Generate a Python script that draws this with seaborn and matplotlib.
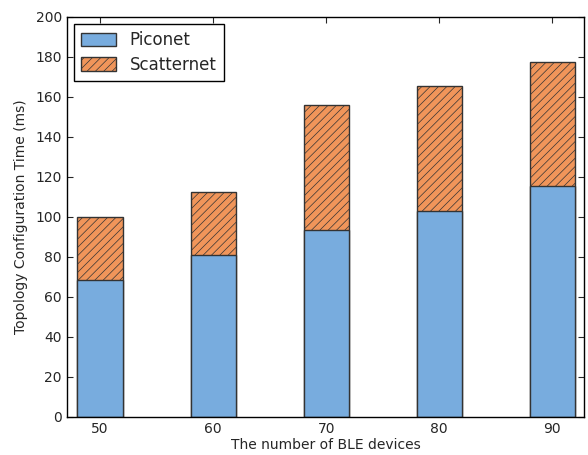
import matplotlib
matplotlib.use("Agg")
import matplotlib.pyplot as plt
import seaborn as sns
import pandas as pd
from matplotlib.patches import Patch

devices = [50, 60, 70, 80, 90]
piconet = [68.4, 80.8, 93.4, 102.8, 115.2]
scatternet = [31.6, 31.6, 62.6, 62.6, 62.4]
y_ticks = [0, 20, 40, 60, 80, 100, 120, 140, 160, 180, 200]

blue = "#78acde"
orange = "#f0955a"
edge = "#333333"

sns.set_style("ticks")
plt.rcParams["font.family"] = ["DejaVu Sans"]
plt.rcParams["hatch.linewidth"] = 0.5

df = pd.DataFrame({
    "devices": devices,
    "piconet": piconet,
    "total": [p + s for p, s in zip(piconet, scatternet)],
})

fig = plt.figure(figsize=(5.88, 4.55), dpi=100)
ax = fig.add_axes([0.1145, 0.0842, 0.8785, 0.8788])

# total height drawn first (hatched), piconet share drawn over its lower part
sns.barplot(data=df, x="devices", y="total", native_scale=True, width=0.4,
            color=orange, saturation=1, edgecolor=edge, linewidth=1.0,
            hatch="////", ax=ax)
sns.barplot(data=df, x="devices", y="piconet", native_scale=True, width=0.4,
            color=blue, saturation=1, edgecolor=edge, linewidth=1.0, ax=ax)

ax.set_xlim(47.1, 92.8)
ax.set_ylim(0, 200)
ax.set_xticks(devices)
ax.set_xticklabels([str(d) for d in devices])
ax.set_yticks(y_ticks)
ax.tick_params(direction="in", top=True, right=True, labelsize=10, length=4,
               width=0.8, pad=4)
for s in ax.spines.values():
    s.set_visible(True)
    s.set_color("black")
    s.set_linewidth(1.0)

ax.set_xlabel("The number of BLE devices", fontsize=10, labelpad=1)
ax.set_ylabel("Topology Configuration Time (ms)", fontsize=10, labelpad=5)

handles = [
    Patch(facecolor=blue, edgecolor=edge, linewidth=1.0, label="Piconet"),
    Patch(facecolor=orange, edgecolor=edge, linewidth=1.0, hatch="////",
          label="Scatternet"),
]
leg = ax.legend(handles=handles, loc="upper left", fontsize=12, fancybox=False,
                framealpha=1, edgecolor="black", borderaxespad=0.4,
                handlelength=2.1, handleheight=0.85, handletextpad=0.8,
                borderpad=0.45, labelspacing=0.4)
leg.get_frame().set_linewidth(1.0)

fig.savefig("out.png", dpi=100)
